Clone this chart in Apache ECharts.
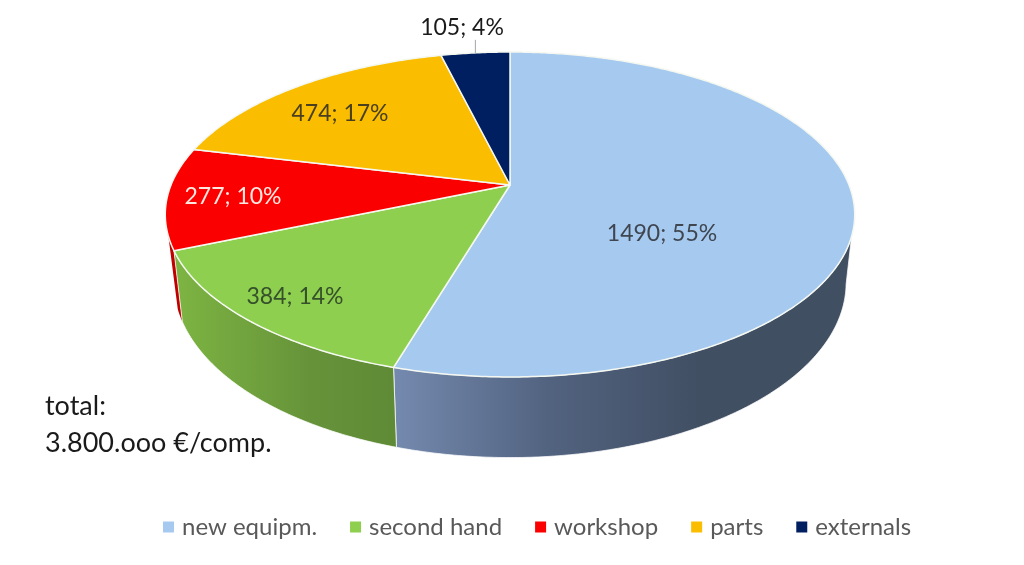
<!DOCTYPE html>
<html>
<head>
<meta charset="utf-8">
<style>html,body{margin:0;padding:0;background:#fff}#c{width:1024px;height:565px}</style>
<script src="https://cdn.jsdelivr.net/npm/echarts@6/dist/echarts.min.js"></script>
</head>
<body>
<div id="c"></div>
<script>
var categories = ['new equipm.', 'second hand', 'workshop', 'parts', 'externals'];
var values = [1490, 384, 277, 474, 105];
var colors = ['#a6c9f0', '#8ecf4f', '#fb0000', '#fabd00', '#001f60'];
var labelColors = ['#3f4650', '#35502a', '#ffe8e0', '#4a4020', '#1a1a1a'];
var noteLines = ['total:', '3.800.ooo €/comp.'];

// layout of the tilted disc (perspective projection of a unit circle)
var CX = 510, CY = 185, RX = 339, RY = 157.1, K = 0.1815, DEPTH = 66, SHRINK = 0.975;
var LABEL_XY = [[662, 234], [295, 297], [233, 197], [340, 114], [462, 28]];
var FONT = 'Lato, "Open Sans", sans-serif';
var DEG = Math.PI / 180;

var total = values.reduce(function (a, b) { return a + b; }, 0);
function topPt(a) {
  var u = Math.sin(a), v = -Math.cos(a), w = 1 - K * v;
  return [CX + RX * u / w, CY + RY * v / w];
}
function bottomPt(a) {
  var v = -Math.cos(a), w = 1 - K * v, p = topPt(a);
  return [CX + (p[0] - CX) * SHRINK, p[1] + DEPTH / w];
}
function arc(a0, a1, fn) {
  var n = Math.max(2, Math.ceil(Math.abs(a1 - a0) / 0.01)), out = [];
  for (var i = 0; i <= n; i++) out.push(fn(a0 + (a1 - a0) * i / n));
  return out;
}
function grad(x0, x1, stops) {
  return new echarts.graphic.LinearGradient(x0, 0, x1, 0, stops, true);
}
var sideFills = [
  grad(396, 700, [{ offset: 0, color: '#7489ae' }, { offset: 0.5, color: '#526380' }, { offset: 1, color: '#414f63' }]),
  grad(181, 396, [{ offset: 0, color: '#7cb342' }, { offset: 0.6, color: '#66933a' }, { offset: 1, color: '#5f8a36' }]),
  '#c00000'
];

// the wall of each visible slice: outline from the rim down to the lower rim
function wall(index, a0, a1) {
  if (index === 0) return arc(108 * DEG, a1, topPt).concat(arc(a1, 101 * DEG, bottomPt));
  if (index === 1) return arc(a0, a1, topPt).concat(arc(a1, a0, bottomPt));
  if (index === 2) return arc(a0, a0 + 5 * DEG, topPt).concat(arc(a0 + 4 * DEG, a0, bottomPt));
  return null;
}

function slice(index) {
  return function () {
    var before = values.slice(0, index).reduce(function (a, b) { return a + b; }, 0);
    var a0 = before / total * Math.PI * 2;
    var a1 = (before + values[index]) / total * Math.PI * 2;
    var rim = arc(a0, a1, topPt);
    var side = wall(index, a0, a1);
    var children = [
      { type: 'polygon', z2: 10, shape: { points: [[CX, CY]].concat(rim) },
        style: { fill: colors[index], stroke: '#f4f8f0', lineWidth: 1.5, lineJoin: 'round' } },
      { type: 'text', z2: 20, x: LABEL_XY[index][0], y: LABEL_XY[index][1],
        style: { text: values[index] + '; ' + Math.round(values[index] / total * 100) + '%',
          fill: labelColors[index], font: '23px ' + FONT, textAlign: 'center', textVerticalAlign: 'middle' } }
    ];
    if (side) {
      children.unshift({ type: 'polygon', z2: index === 2 ? 1 : 2, shape: { points: side },
        style: { fill: sideFills[index], stroke: index < 2 ? 'rgba(255,255,255,0.75)' : null, lineWidth: 1 } });
    }
    if (index === 4) {
      var m = topPt((a0 + a1) / 2);
      children.push({ type: 'line', z2: 20, shape: { x1: m[0], y1: m[1], x2: m[0], y2: m[1] - 13 },
        style: { stroke: '#a6a6a6', lineWidth: 1 } });
    }
    return { type: 'group', children: children };
  };
}

var chart = echarts.init(document.getElementById('c'), null, { renderer: 'canvas' });
chart.setOption({
  animation: false,
  backgroundColor: '#fff',
  legend: {
    data: categories, left: 158, top: 510, icon: 'rect', itemWidth: 11, itemHeight: 11, itemGap: 33,
    textStyle: { fontFamily: FONT, fontSize: 24, color: '#595959', padding: [0, 0, 0, 3] }
  },
  graphic: noteLines.map(function (t, i) {
    return { type: 'text', left: 45, top: 393 + i * 37,
      style: { text: t, fill: '#1a1a1a', font: '27px ' + FONT } };
  }),
  series: categories.map(function (name, i) {
    return { type: 'custom', name: name, coordinateSystem: 'none', data: [values[i]],
      itemStyle: { color: colors[i] }, renderItem: slice(i), silent: true };
  })
});
</script>
</body>
</html>
